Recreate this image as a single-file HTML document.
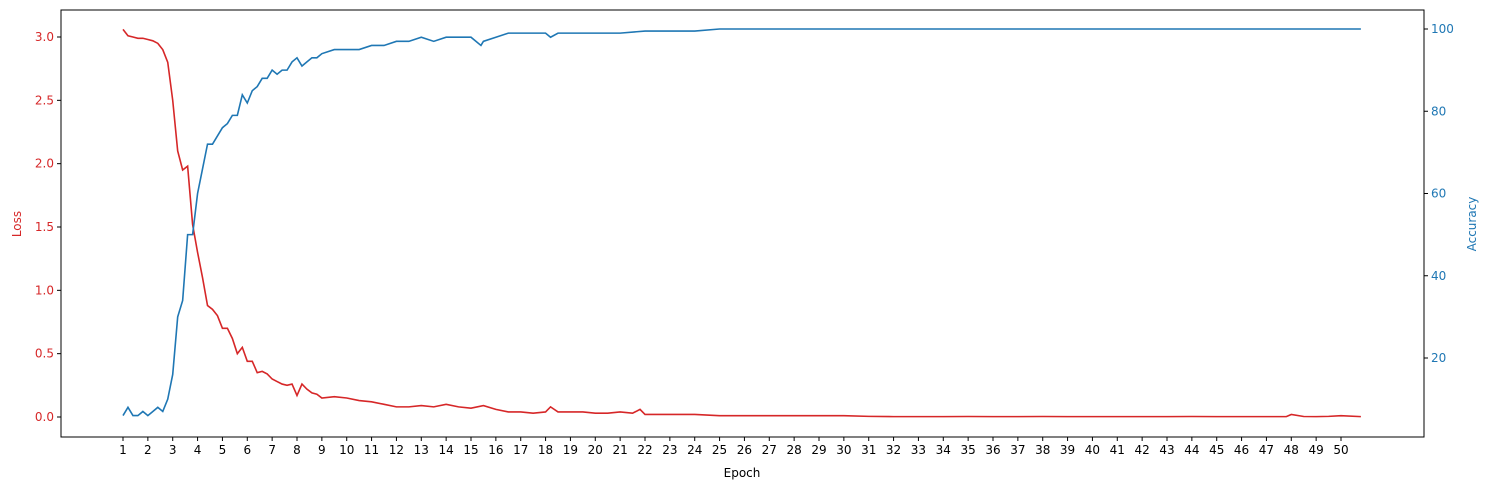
<!DOCTYPE html>
<html><head><meta charset="utf-8"><style>
body{margin:0;background:#fff;}
svg{display:block;font-family:"DejaVu Sans","Liberation Sans",sans-serif;}
</style></head><body>
<svg id="c" width="1489" height="490"></svg>
<script>
const lossEpochs=[1,1.2,1.4,1.6,1.8,2,2.2,2.4,2.6,2.8,3,3.2,3.4,3.6,3.8,4,4.2,4.4,4.6,4.8,5,5.2,5.4,5.6,5.8,6,6.2,6.4,6.6,6.8,7,7.2,7.4,7.6,7.8,8,8.2,8.4,8.6,8.8,9,9.5,10,10.5,11,11.5,12,12.5,13,13.5,14,14.5,15,15.5,16,16.5,17,17.5,18,18.2,18.5,19,19.5,20,20.5,21,21.5,21.8,22,22.5,23,23.5,24,25,26,27,28,29,30,31,32,33,34,35,36,37,38,39,40,41,42,43,44,45,46,47,47.8,48,48.5,49,49.5,50,50.8];
const lossValues=[3.06,3.01,3.00,2.99,2.99,2.98,2.97,2.95,2.90,2.80,2.50,2.10,1.95,1.98,1.52,1.30,1.10,0.88,0.85,0.80,0.70,0.70,0.62,0.50,0.55,0.44,0.44,0.35,0.36,0.34,0.30,0.28,0.26,0.25,0.26,0.17,0.26,0.22,0.19,0.18,0.15,0.16,0.15,0.13,0.12,0.10,0.08,0.08,0.09,0.08,0.10,0.08,0.07,0.09,0.06,0.04,0.04,0.03,0.04,0.08,0.04,0.04,0.04,0.03,0.03,0.04,0.03,0.06,0.02,0.02,0.02,0.02,0.02,0.01,0.01,0.01,0.01,0.01,0.01,0.005,0.003,0.003,0.003,0.004,0.003,0.003,0.004,0.003,0.003,0.003,0.003,0.003,0.004,0.003,0.003,0.003,0.003,0.02,0.004,0.003,0.005,0.01,0.003];
const accEpochs=[1,1.2,1.4,1.6,1.8,2,2.2,2.4,2.6,2.8,3,3.2,3.4,3.6,3.8,4,4.2,4.4,4.6,4.8,5,5.2,5.4,5.6,5.8,6,6.2,6.4,6.6,6.8,7,7.2,7.4,7.6,7.8,8,8.2,8.4,8.6,8.8,9,9.5,10,10.5,11,11.5,12,12.5,13,13.5,14,14.5,15,15.4,15.5,16,16.5,17,17.5,18,18.2,18.5,19,20,21,22,23,24,25,26,27,28,29,30,31,32,33,34,35,36,37,38,39,40,41,42,43,44,45,46,47,48,49,50,50.8];
const accValues=[6,8,6,6,7,6,7,8,7,10,16,30,34,50,50,60,66,72,72,74,76,77,79,79,84,82,85,86,88,88,90,89,90,90,92,93,91,92,93,93,94,95,95,95,96,96,97,97,98,97,98,98,98,96,97,98,99,99,99,99,98,99,99,99,99,99.5,99.5,99.5,100,100,100,100,100,100,100,100,100,100,100,100,100,100,100,100,100,100,100,100,100,100,100,100,100,100,100];
const xTicks=[];for(let i=1;i<=50;i++)xTicks.push(i);
const lossTicks=[0,0.5,1,1.5,2,2.5,3];
const accTicks=[20,40,60,80,100];
const L=61,R=1424,T=10,B=437;
const xs=e=>123+(e-1)*(1341-123)/49;
const yl=v=>417-v*(417-37)/3;
const ya=v=>29+(100-v)*(358-29)/80;
const svg=document.getElementById('c');const NS='http://www.w3.org/2000/svg';
function mk(t,a,p){const e=document.createElementNS(NS,t);for(const k in a)e.setAttribute(k,a[k]);(p||svg).appendChild(e);return e;}
const frame=mk('rect',{x:L,y:T,width:R-L,height:B-T,fill:'none',stroke:'#000','stroke-width':1});


xTicks.forEach(t=>{const x=xs(t);
 const l=mk('line',{x1:x,x2:x,y1:B,y2:B+4,stroke:'#000'});
 
 
 const tx=mk('text',{x:x,y:B+17,'text-anchor':'middle','font-size':12});tx.textContent=t;
 
 });
lossTicks.forEach(t=>{const y=yl(t);
 const l=mk('line',{x1:L-4,x2:L,y1:y,y2:y,stroke:'#000'});
 
 
 const tx=mk('text',{x:L-7,y:y+4,'text-anchor':'end','font-size':12,fill:'#d62728'});tx.textContent=t.toFixed(1);
 
 });
accTicks.forEach(t=>{const y=ya(t);
 const l=mk('line',{x1:R,x2:R+4,y1:y,y2:y,stroke:'#000'});
 
 
 const tx=mk('text',{x:R+7,y:y+4,'text-anchor':'start','font-size':12,fill:'#1f77b4'});tx.textContent=t;
 
 });
const pl=mk('polyline',{points:lossEpochs.map((e,i)=>xs(e)+','+yl(lossValues[i])).join(' '),fill:'none',stroke:'#d62728','stroke-width':1.6});


const pa=mk('polyline',{points:accEpochs.map((e,i)=>xs(e)+','+ya(accValues[i])).join(' '),fill:'none',stroke:'#1f77b4','stroke-width':1.6});


const xt=mk('text',{x:742,y:477,'text-anchor':'middle','font-size':12});xt.textContent='Epoch';


const ylt=mk('text',{x:21,y:224,'text-anchor':'middle','font-size':12,fill:'#d62728',transform:'rotate(-90 21 224)'});ylt.textContent='Loss';


const yat=mk('text',{x:1476,y:224,'text-anchor':'middle','font-size':12,fill:'#1f77b4',transform:'rotate(-90 1476 224)'});yat.textContent='Accuracy';


</script>
</body></html>
